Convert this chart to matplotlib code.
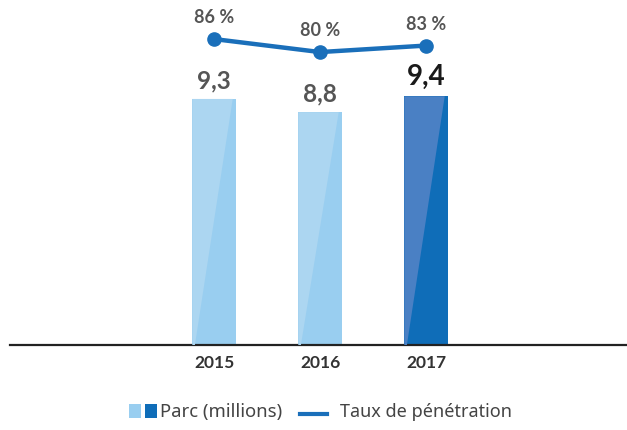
import matplotlib
matplotlib.use("Agg")
import matplotlib.pyplot as plt
from matplotlib.patches import Polygon, Rectangle
from matplotlib.lines import Line2D

years = ["2015", "2016", "2017"]
parc = [9.3, 8.8, 9.4]
parc_labels = ["9,3", "8,8", "9,4"]
taux = [86, 80, 83]
taux_labels = ["86 %", "80 %", "83 %"]

W, H = 627, 430
fig = plt.figure(figsize=(W / 100, H / 100), dpi=100)
plt.rcParams['font.family'] = ['Noto Sans', 'DejaVu Sans']
BOLD = ['Lato', 'DejaVu Sans']

ax_l, ax_r, ax_b, ax_t = 10, 627, 345, 0
ax = fig.add_axes([ax_l / W, (H - ax_b) / H, (ax_r - ax_l) / W, (ax_b - ax_t) / H])
ax.set_xlim(-1.925, 3.896)
ax.set_ylim(0, 13.04)

light = ["#acd6f1", "#acd6f1", "#4a80c4"]
dark = ["#99cef0", "#99cef0", "#0f6db8"]
x = list(range(len(years)))
bw = 0.41
bars = ax.bar(x, parc, width=bw, color=dark, zorder=2)
for i, b in enumerate(bars):
    x0 = b.get_x()
    w = b.get_width()
    h = b.get_height()
    poly = Polygon([(x0, 0), (x0 + 0.06 * w, 0), (x0 + 0.93 * w, h), (x0, h)],
                   closed=True, facecolor=light[i], edgecolor='none', zorder=3)
    ax.add_patch(poly)
    if i == 2:
        ax.text(x[i], h + 0.25, parc_labels[i], ha='center', va='bottom', family=BOLD,
                fontsize=20, fontweight='bold', color='#1a1a1a', zorder=5)
    else:
        ax.text(x[i], h + 0.25, parc_labels[i], ha='center', va='bottom', family=BOLD,
                fontsize=17.5, fontweight='bold', color='#555555', zorder=5)

for s in ['top', 'right', 'left']:
    ax.spines[s].set_visible(False)
ax.spines['bottom'].set_linewidth(1.6)
ax.spines['bottom'].set_color('#222222')
ax.set_yticks([])
ax.set_xticks(x)
ax.set_xticklabels(years, fontsize=12.5, fontweight='bold', color='#333333', family=BOLD)
ax.tick_params(axis='x', length=0, pad=7)

ax2 = ax.twinx()
ax2.set_ylim(-55, 104)
ax2.plot(x, taux, color='#1a6fba', lw=3.2, marker='o', markersize=9.5, zorder=4)
for i, v in enumerate(taux):
    ax2.text(x[i], v + 6.0, taux_labels[i], ha='center', va='bottom', family=BOLD,
             fontsize=13, fontweight='bold', color='#555555')
ax2.axis('off')

# legend
def fx(px):
    return px / W

def fy(py):
    return (H - py) / H

fig.add_artist(Rectangle((fx(129), fy(418)), fx(141) - fx(129), fy(404) - fy(418),
                         transform=fig.transFigure, facecolor='#99cef0', edgecolor='none'))
fig.add_artist(Rectangle((fx(145), fy(418)), fx(157) - fx(145), fy(404) - fy(418),
                         transform=fig.transFigure, facecolor='#0f6db8', edgecolor='none'))
fig.text(fx(160), fy(412), "Parc (millions)", fontsize=13.3, color='#444444', va='center', ha='left')
fig.add_artist(Line2D([fx(300), fx(327)], [fy(414), fy(414)], transform=fig.transFigure,
                      color='#1a6fba', lw=3))
fig.text(fx(340), fy(412), "Taux de pénétration", fontsize=13, color='#444444', va='center', ha='left')

fig.savefig("out.png", dpi=100)
